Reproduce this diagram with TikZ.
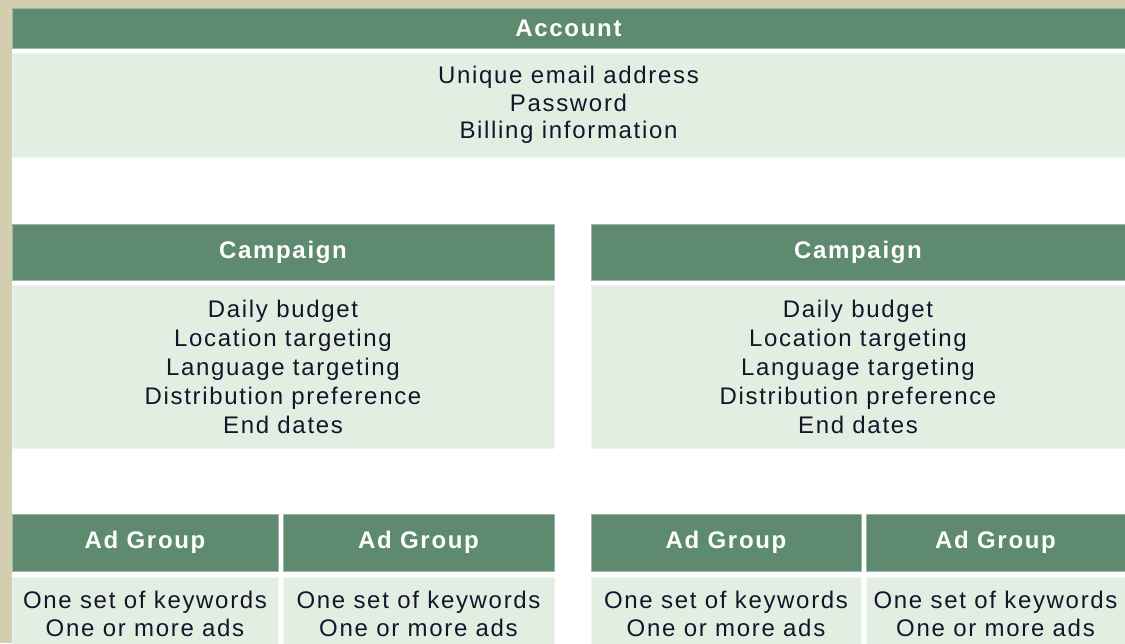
\documentclass[tikz,border=0pt]{standalone}
\usepackage{fontspec}
\setmainfont{Liberation Sans}[LetterSpace=7]

\definecolor{paper}{HTML}{D3CFAE}
\definecolor{hdrgreen}{HTML}{5E8A70}
\definecolor{hdrline}{HTML}{9FB5A6}
\definecolor{bodygreen}{HTML}{E3EEE3}
\definecolor{bodyline}{HTML}{EEF4EE}
\definecolor{bodytext}{HTML}{15152A}

\newcommand{\hdrfont}{\fontsize{24}{28}\selectfont\bfseries}
\newcommand{\bodyfont}{\fontsize{24}{27.5}\selectfont}

\begin{document}
\begin{tikzpicture}[x=1pt,y=-1pt,
  hdr/.style={fill=hdrgreen, draw=hdrline, line width=0.8pt, text=white,
    font=\hdrfont, inner sep=0pt, outer sep=0pt, anchor=north west},
  bodybox/.style={fill=bodygreen, draw=bodyline, line width=0.6pt, text=bodytext,
    font=\bodyfont, align=center, inner sep=0pt, outer sep=0pt, anchor=north west},
  tallbox/.style={bodybox, font=\fontsize{24}{29}\selectfont}]

\clip (0,0) rectangle (1125,643);
% textured paper strip at the top and left
\fill[paper] (0,0) rectangle (1125,643);
\fill[white] (12,8) rectangle (1125,643);

% account
\node[hdr, minimum width=1113, minimum height=40] (acct) at (12,8) {Account};
\node[bodybox, minimum width=1113, minimum height=104] (acctbody) at (12,53)
  {Unique email address\\Password\\Billing information};

% campaigns
\node[hdr, minimum width=542, minimum height=56] (campA) at (12,224) {Campaign};
\node[tallbox, minimum width=542, minimum height=163] (campAbody) at (12,285)
  {Daily budget\\Location targeting\\Language targeting\\Distribution preference\\End dates};
\node[hdr, minimum width=534, minimum height=56] (campB) at (591,224) {Campaign};
\node[tallbox, minimum width=534, minimum height=163] (campBbody) at (591,285)
  {Daily budget\\Location targeting\\Language targeting\\Distribution preference\\End dates};

% ad groups
\foreach \x/\w/\n in {12/266/1, 283/271/2, 591/270/3, 866/259/4} {
  \node[hdr, minimum width=\w, minimum height=57] (adg\n) at (\x,514) {Ad Group};
  \node[bodybox, minimum width=\w, minimum height=74] (adg\n body) at (\x,577)
    {One set of keywords\\One or more ads};
}
\end{tikzpicture}
\end{document}
